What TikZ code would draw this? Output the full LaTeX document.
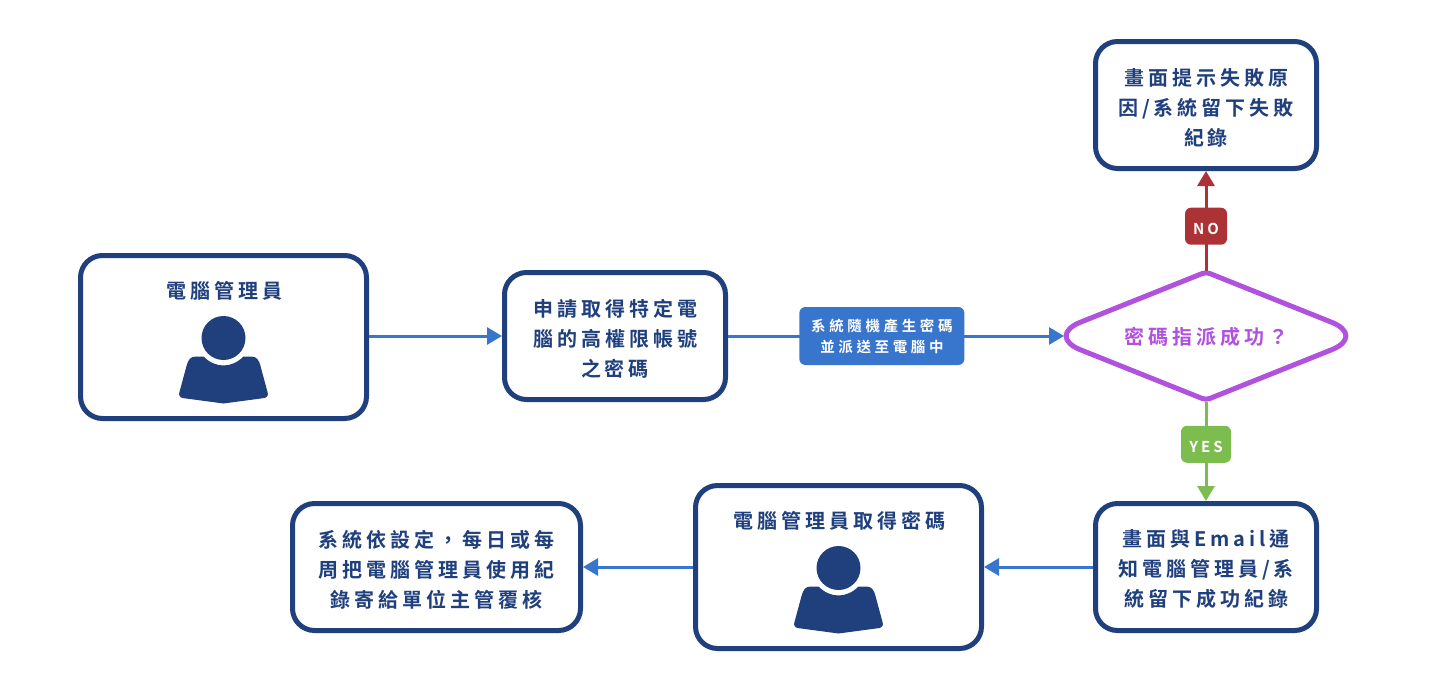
\documentclass[tikz,border=0pt]{standalone}
\usepackage{fontspec}
\usepackage{tikz}
\usetikzlibrary{arrows.meta, shapes.geometric}
\newfontfamily\cjk[LetterSpace=20]{Noto Sans CJK TC Bold}
\newfontfamily\cjksm[LetterSpace=25]{Noto Sans CJK TC Bold}
\definecolor{navy}{HTML}{1F3F7D}
\definecolor{cblue}{HTML}{3875CC}
\definecolor{cpurple}{HTML}{B052DD}
\definecolor{cred}{HTML}{AD3235}
\definecolor{cgreen}{HTML}{7DBD50}
\newcommand{\tp}{\mbox{}\\[-8pt]}

\begin{document}
\begin{tikzpicture}[x=1pt, y=-1pt]
        \tikzstyle{box}  = [draw=navy, line width=5pt, rounded corners=22pt, inner sep=0pt, align=center, text=navy, font=\cjk\fontsize{20}{30}\selectfont]
        \tikzstyle{ttl}  = [inner sep=0pt, text=navy, font=\cjk\fontsize{20}{30}\selectfont]
        \tikzstyle{tag}  = [inner sep=0pt, rounded corners=6pt, minimum height=37pt, align=center, text=white]
        \tikzstyle{tran} = [line width=3pt, -{Triangle[length=15pt, width=17pt]}]
        \tikzstyle{dia}  = [draw=cpurple, line width=5pt, line join=round]
        \tikzset{person/.pic={
            \fill[navy] (0,0) circle (22);
            \fill[navy] (-20,18.5) .. controls (-14,24.5) and (-7,27.5) .. (0,27.5)
                .. controls (7,27.5) and (14,24.5) .. (20,18.5) -- (28,18.5)
                .. controls (33,18.5) and (35.5,22) .. (37,28) -- (44,54)
                .. controls (45,57) and (44,59) .. (41,60) -- (0,65.5) -- (-41,60)
                .. controls (-44,59) and (-45,57) .. (-44,54) -- (-37,28)
                .. controls (-35.5,22) and (-33,18.5) .. (-28,18.5) -- cycle;
        }}

        \useasboundingbox (0,0) rectangle (1440,689);

        % The boxes.
        \foreach \x/\y/\w/\h/\cod/\txt in {
                 223.5/337/286/163/admin/{},
                 615/336/221/127/req/{\tp 申請取得特定電\\腦的高權限帳號\\之密碼},
                 1206/105/221/127/fail/{\tp 畫面提示失敗原\\因/系統留下失敗\\紀錄},
                 1206/567/221/127/notify/{\tp 畫面與Email通\\知電腦管理員/系\\統留下成功紀錄},
                 838.5/567/286/163/getpw/{},
                 436.5/567/288/127/report/{\tp 系統依設定，每日或每\\周把電腦管理員使用紀\\錄寄給單位主管覆核}} {
            \node[box, minimum width=\w pt, minimum height=\h pt] (\cod) at (\x,\y) {\txt};
        }

        % The two persons.
        \node[ttl] (admintitle) at (224.5,291) {電腦管理員};
        \node[ttl] (getpwtitle) at (839.5,521) {電腦管理員取得密碼};
        \pic at (223.5,338) {person};
        \pic at (838.5,568) {person};

        % The decision.
        \draw[dia] (1126,304) [rounded corners=4pt] -- (1206,272) [rounded corners=37pt] -- (1366,336)
            [rounded corners=4pt] -- (1206,400) [rounded corners=37pt] -- (1046,336) -- cycle;
        \node[shape=diamond, aspect=2.17, inner sep=0pt, outer sep=0pt, minimum width=284pt, minimum height=131pt,
            text=cpurple, font=\cjk\fontsize{20}{30}\selectfont, execute at begin node={\rule{0pt}{20pt}}] (dec) at (1206,336) {密碼指派成功？};

        % The connectors.
        \draw[tran, cblue] (admin.east |- req.west) -- (req.west);
        \draw[tran, cblue] (req.east) -- node[tag, pos=0.458, fill=cblue, minimum width=165pt, minimum height=58pt,
            font=\cjksm\fontsize{14.5}{21}\selectfont] (gen) {系統隨機產生密碼\\並派送至電腦中} (dec.west);
        \draw[tran, cred] (dec.north) -- node[tag, pos=0.445, fill=cred, minimum width=42pt,
            font=\cjk\fontsize{15}{20}\selectfont, execute at begin node={\rule{0pt}{16pt}}] (no) {NO} (fail.south);
        \draw[tran, cgreen] (dec.south) -- node[tag, pos=0.43, fill=cgreen, minimum width=50pt,
            font=\cjk\fontsize{15}{20}\selectfont, execute at begin node={\rule{0pt}{16pt}}] (yes) {YES} (notify.north);
        \draw[tran, cblue] (notify.west) -- (getpw.east);
        \draw[tran, cblue] (getpw.west) -- (report.east);
\end{tikzpicture}
\end{document}
